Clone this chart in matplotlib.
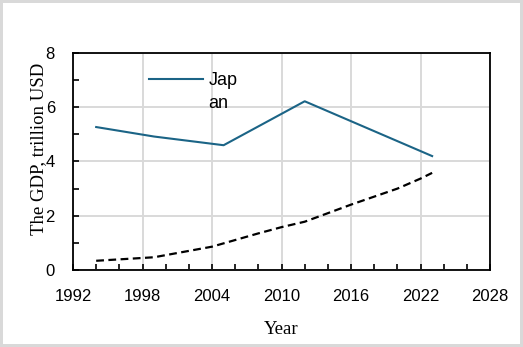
import matplotlib.pyplot as plt
from matplotlib.ticker import MultipleLocator

# Japan GDP, trillion USD
years_japan = [1994, 1999, 2005, 2012, 2023]
gdp_japan = [5.27, 4.92, 4.6, 6.22, 4.2]

# dashed series (no legend entry)
years_dash = [1994, 1999, 2004, 2008, 2010, 2012, 2016, 2020, 2022, 2023]
gdp_dash = [0.34, 0.47, 0.86, 1.35, 1.58, 1.78, 2.41, 3.0, 3.37, 3.58]

plt.rcParams['font.family'] = ['Liberation Sans', 'DejaVu Sans']

fig = plt.figure(figsize=(5.23, 3.47), dpi=100)
fig.patch.set_edgecolor('#d9d9d9')
fig.patch.set_linewidth(3)
ax = fig.add_axes([0.1396, 0.2219, 0.7974, 0.6254])

ax.plot(years_japan, gdp_japan, color='#1b6486', lw=1.5, label='Jap')
ax.plot(years_dash, gdp_dash, color='black', lw=1.6, ls=(0, (3.5, 2)))

ax.set_xlim(1992, 2028)
ax.set_ylim(0, 8)
ax.xaxis.set_major_locator(MultipleLocator(6))
ax.xaxis.set_minor_locator(MultipleLocator(2))
ax.yaxis.set_major_locator(MultipleLocator(2))
ax.yaxis.set_minor_locator(MultipleLocator(1))
ax.grid(True, which='major', color='#d9d9d9', lw=1.4)
ax.set_axisbelow(True)

for s in ax.spines.values():
    s.set_linewidth(1.3)
ax.tick_params(which='both', direction='in', length=4, width=1.2, labelsize=12)
ax.tick_params(axis='y', pad=13)
ax.tick_params(axis='x', pad=14)

ax.set_xlabel('Year', family='Liberation Serif', fontsize=13.5, labelpad=12)
ax.set_ylabel('The GDP, trillion USD', family='Liberation Serif', fontsize=13.5)
ax.yaxis.set_label_coords(-0.062, 0.558)

# legend label wraps onto a second line in the original
leg = ax.legend(loc='upper left', bbox_to_anchor=(0.182, 0.912), frameon=False,
                fontsize=13, handlelength=3.0, handletextpad=0.3,
                borderpad=0, borderaxespad=0)
ax.annotate('an', xy=(0, 0), xycoords=leg.get_texts()[0], xytext=(0, -4.5),
            textcoords='offset points', va='top', ha='left', fontsize=13,
            zorder=6)

fig.savefig('out.png', dpi=100)
